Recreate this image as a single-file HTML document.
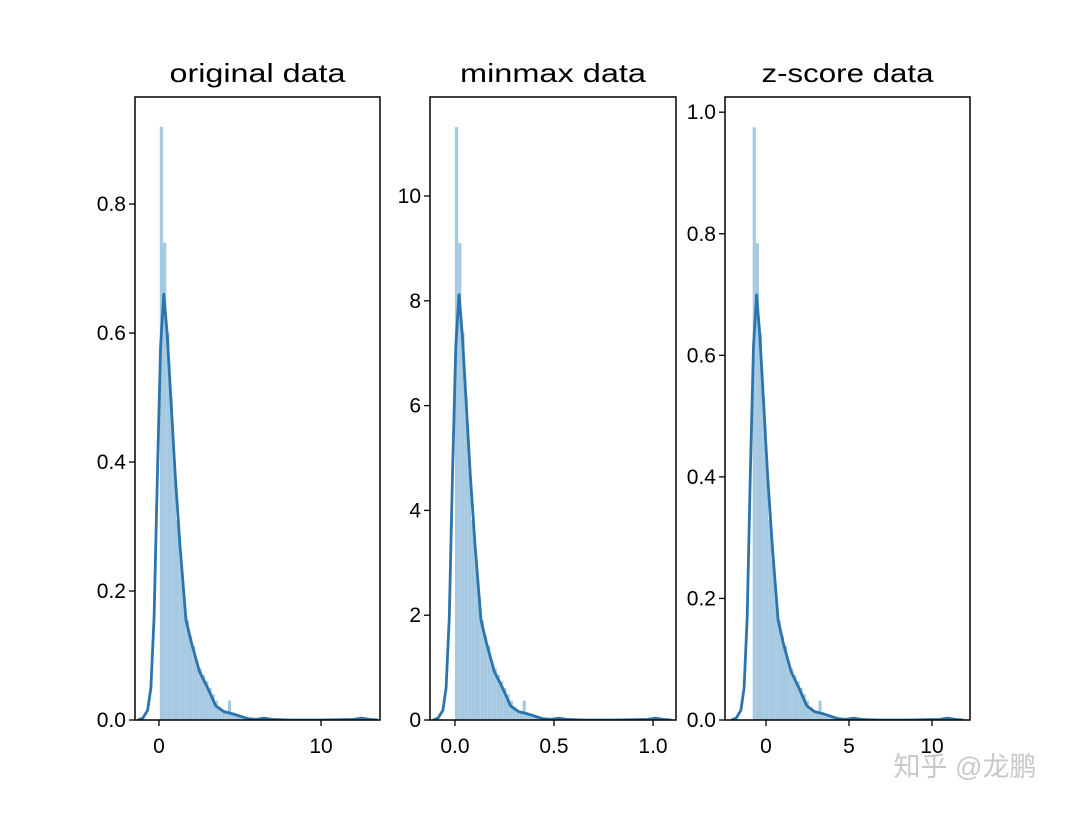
<!DOCTYPE html>
<html><head><meta charset="utf-8">
<style>
body{margin:0;background:#fff;width:1080px;height:810px;overflow:hidden}
svg text{font-family:"Liberation Sans","DejaVu Sans",sans-serif;fill:#000}
</style></head>
<body>
<svg id="fig" width="1080" height="810" xmlns="http://www.w3.org/2000/svg">
<text x="965" y="776" font-size="27" text-anchor="middle" style="fill:#c8c8c8;font-family:'Liberation Sans','Noto Sans CJK SC',sans-serif">知乎 @龙鹏</text>
</svg>
<script>
// histogram (original data units): bin start, width and densities
const binStart = 0.05;
const binWidth = 0.2;
const histDensity = [0.92,0.74,0.60,0.50,0.40,0.31,0.25,0.19,0.155,0.13,0.115,0.09,0.08,0.07,0.06,0.05,0.04,0.03,0.02,0.015,0.012,0.03,0.008,0.006,0.005,0.004,0.003,0.002,0.002,0.001,0.001,0.002,0.004,0.003,0.001,0,0,0,0,0,0,0,0,0,0,0,0,0,0,0,0,0,0,0,0,0,0,0,0,0,0.001,0.002,0.003,0.002,0.001];
// KDE curve (original data units)
const kdeX = [-1.3,-1,-0.7,-0.5,-0.3,-0.1,0.1,0.3,0.5,0.8,1.0,1.3,1.67,2.0,2.5,3.0,3.5,4.0,4.5,5.0,5.5,6.0,6.5,7.0,8.0,10,12,12.5,13,13.5];
const kdeY = [0,0.003,0.015,0.05,0.16,0.38,0.58,0.66,0.60,0.47,0.38,0.27,0.155,0.12,0.075,0.05,0.022,0.013,0.01,0.006,0.002,0.001,0.003,0.001,0,0,0.001,0.003,0.001,0];
// panels: titles, transform params, axis limits, ticks
const titles = ["original data","minmax data","z-score data"];
const titleWidths = [176,186,172];
const shift = [0, 0.05, 0.9];
const scale = [1, 12.3, 1.06];
const xMin = [-1.48,-0.126,-2.47];
const xMax = [13.64,1.116,12.29];
const yMax = [0.966,11.89,1.025];
const xTicks = [[0,10],[0,0.5,1.0],[0,5,10]];
const xTickLabels = [["0","10"],["0.0","0.5","1.0"],["0","5","10"]];
const yTicks = [[0,0.2,0.4,0.6,0.8],[0,2,4,6,8,10],[0,0.2,0.4,0.6,0.8,1.0]];
const yTickLabels = [["0.0","0.2","0.4","0.6","0.8"],["0","2","4","6","8","10"],["0.0","0.2","0.4","0.6","0.8","1.0"]];

const NS="http://www.w3.org/2000/svg";
const svg=document.getElementById('fig');
const boxes=[[135,380],[430,676],[725,970]];
const topY=97,botY=720;
function mk(tag,attrs,parent){const e=document.createElementNS(NS,tag);for(const k in attrs)e.setAttribute(k,attrs[k]);(parent||svg).appendChild(e);return e;}
titles.forEach((t,i)=>{
  const [L,R]=boxes[i];
  const g=mk('g',{});
  
  
  const sx=v=>L+(v-xMin[i])/(xMax[i]-xMin[i])*(R-L);
  const sy=v=>botY-v/yMax[i]*(botY-topY);
  const tx=x=>(x-shift[i])/scale[i];
  const ty=y=>y*scale[i];
  const cp=mk('clipPath',{id:'c'+i},g);mk('rect',{x:L,y:topY,width:R-L,height:botY-topY},cp);
  const bars=mk('g',{'clip-path':'url(#c'+i+')'},g);
  histDensity.forEach((d,k)=>{
    if(d<=0)return;
    const x0=sx(tx(binStart+k*binWidth)),x1=sx(tx(binStart+(k+1)*binWidth));
    const r=mk('rect',{x:x0,y:sy(ty(d)),width:x1-x0,height:botY-sy(ty(d)),fill:'#a6c9e2'},bars);
    
    
  });
  const pts=kdeX.map((x,k)=>sx(tx(x)).toFixed(1)+','+sy(ty(kdeY[k])).toFixed(1)).join(' ');
  const pl=mk('polyline',{points:pts,fill:'none',stroke:'#2c74ad','stroke-width':2.8,'stroke-linejoin':'round'},bars);
  
  
  const fr=mk('rect',{x:L,y:topY,width:R-L,height:botY-topY,fill:'none',stroke:'#000','stroke-width':1.5},g);
  
  
  const tt=mk('text',{x:(L+R)/2-titleWidths[i]/2,y:82,'font-size':26,textLength:titleWidths[i],lengthAdjust:'spacingAndGlyphs'},g);tt.textContent=t;
  
  
  xTicks[i].forEach((v,k)=>{const x=sx(v);mk('line',{x1:x,x2:x,y1:botY,y2:botY+6,stroke:'#000','stroke-width':1.3},g);
    const l=mk('text',{x:x,y:botY+33,'font-size':21,'text-anchor':'middle'},g);l.textContent=xTickLabels[i][k];
    
    });
  yTicks[i].forEach((v,k)=>{const y=sy(v);mk('line',{x1:L-6,x2:L,y1:y,y2:y,stroke:'#000','stroke-width':1.3},g);
    const l=mk('text',{x:L-9,y:y+7,'font-size':21,'text-anchor':'end'},g);l.textContent=yTickLabels[i][k];
    
    });
});
</script>
</body></html>
